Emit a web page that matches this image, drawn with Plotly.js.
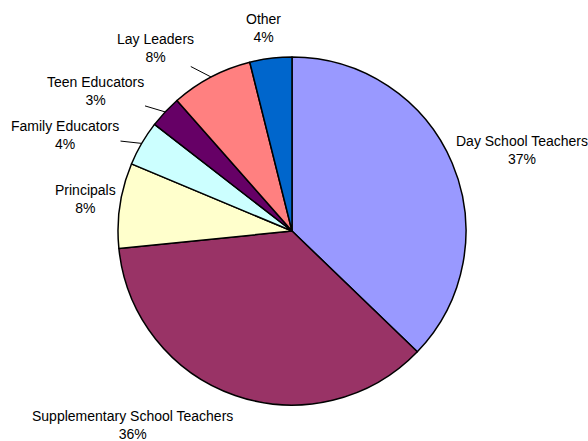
<!DOCTYPE html>
<html>
<head>
<meta charset="utf-8">
<script src="https://cdn.plot.ly/plotly-3.0.1.min.js"></script>
<style>html,body{margin:0;padding:0;background:#fff;}#chart{width:588px;height:441px;}</style>
</head>
<body>
<div id="chart"></div>
<script>
// ---- data ----
const categories = ["Day School Teachers", "Supplementary School Teachers", "Principals", "Family Educators", "Teen Educators", "Lay Leaders", "Other"];
const shares = [37.2, 36.2, 7.9, 4.2, 3.0, 7.6, 3.9];
const sliceColors = ["#9999FF", "#993366", "#FFFFCC", "#CCFFFF", "#660066", "#FF8080", "#0066CC"];

// ---- layout helpers (label placement, not data) ----
const W = 588, H = 441;
const pieDomain = {x: [0.2007, 0.7925], y: [0.0816, 0.8707]};
// label text centre in pixels, and whether a leader line is drawn
const labelCenters = [[522, 150], [132, 425], [85, 199], [65, 135], [95, 91], [155, 48], [263, 28]];
const hasLeader = [false, false, false, true, true, true, false];

const FONT = "Liberation Sans, Arial, Helvetica, sans-serif";

const trace = {
  type: "pie",
  labels: categories,
  values: shares,
  sort: false,
  direction: "clockwise",
  rotation: 0,
  marker: {colors: sliceColors, line: {color: "#000000", width: 1.5}},
  textinfo: "none",
  hoverinfo: "label+percent",
  domain: pieDomain,
  showlegend: false
};

// pie geometry in pixels (margins are 0)
const cx = (pieDomain.x[0] + pieDomain.x[1]) / 2 * W;
const cy = H - (pieDomain.y[0] + pieDomain.y[1]) / 2 * H;
const r = Math.min((pieDomain.x[1] - pieDomain.x[0]) * W, (pieDomain.y[1] - pieDomain.y[0]) * H) / 2;
const total = shares.reduce((a, b) => a + b, 0);

const annotations = [];
let cum = 0;
shares.forEach((v, i) => {
  const mid = (cum + v / 2) / total * 2 * Math.PI;
  cum += v;
  const pct = Math.round(v / total * 100) + "%";
  const text = categories[i] + "<br>" + pct;
  const [tx, ty] = labelCenters[i];
  if (hasLeader[i]) {
    const px = cx + r * Math.sin(mid);
    const py = cy - r * Math.cos(mid);
    annotations.push({
      x: px / W, y: 1 - py / H, xref: "paper", yref: "paper",
      ax: tx - px, ay: ty - py,
      text: text, showarrow: true, arrowhead: 0, arrowwidth: 1, arrowcolor: "#000000",
      standoff: 0, startstandoff: 0,
      font: {family: FONT, size: 14, color: "#000000"}, align: "center"
    });
  } else {
    annotations.push({
      x: tx / W, y: 1 - ty / H, xref: "paper", yref: "paper",
      xanchor: "center", yanchor: "middle",
      text: text, showarrow: false,
      font: {family: FONT, size: 14, color: "#000000"}, align: "center"
    });
  }
});

const layout = {
  width: W, height: H,
  margin: {l: 0, r: 0, t: 0, b: 0},
  paper_bgcolor: "#ffffff",
  plot_bgcolor: "#ffffff",
  showlegend: false,
  font: {family: FONT, size: 14, color: "#000000"},
  annotations: annotations
};

Plotly.newPlot("chart", [trace], layout, {displayModeBar: false, staticPlot: true});
</script>
</body>
</html>
